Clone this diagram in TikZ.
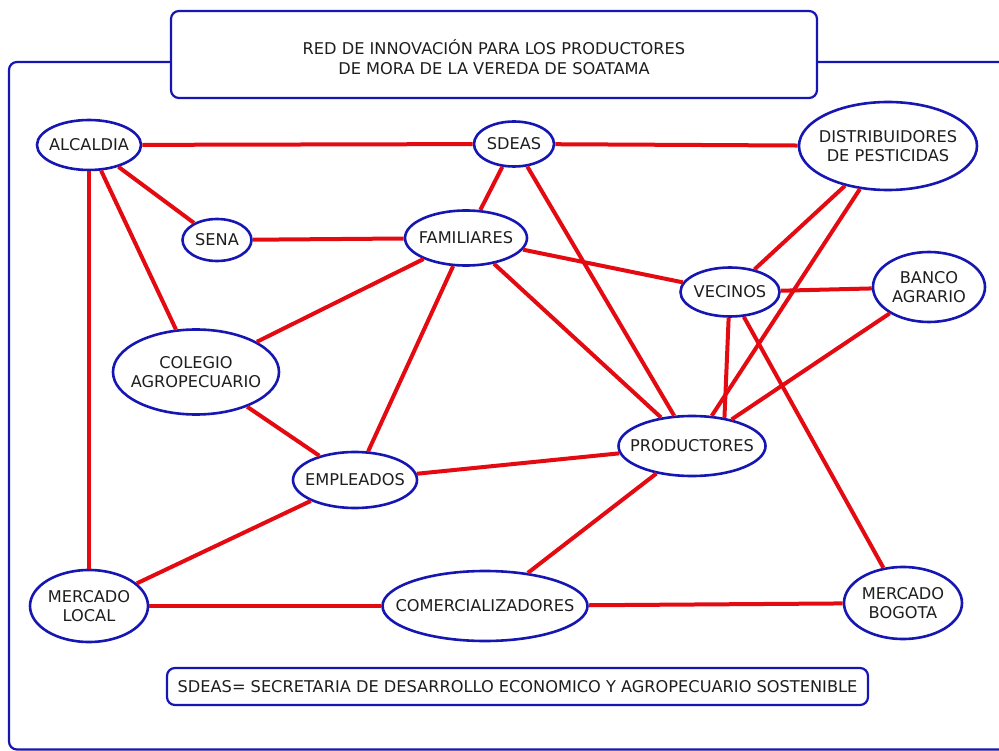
\documentclass[tikz,border=0pt]{standalone}
\usepackage{fontspec}
\setmainfont{DejaVu Sans}
\usetikzlibrary{shapes.geometric}
\definecolor{nodeblue}{RGB}{22,22,178}
\definecolor{linkred}{RGB}{228,10,18}
\definecolor{textgray}{RGB}{30,30,30}
\begin{document}
\begin{tikzpicture}[x=1pt,y=-1pt,
  actor/.style args={#1/#2}{ellipse, draw=nodeblue, line width=2.6pt, inner sep=0pt,
    minimum width=#1, minimum height=#2},
  every label/.style={align=center, text=textgray, inner sep=0pt,
    font=\fontsize{16.2}{19}\selectfont},
  link/.style={draw=linkred, line width=4pt},
  panel/.style={draw=nodeblue, line width=2.2pt, rounded corners=8pt}]
\useasboundingbox (0,0) rectangle (999,751);
\clip (0,0) rectangle (999,751);
% frame and title
\draw[panel] (9,62) rectangle (1015,749.5);
\draw[panel, fill=white] (171,11) rectangle (817,98);
\node[text=textgray, align=center, font=\fontsize{16.2}{20}\selectfont] (title) at (494,57)
  {RED DE INNOVACIÓN PARA LOS PRODUCTORES\\DE MORA DE LA VEREDA DE SOATAMA};
% actors
\node[actor=104pt/50pt, label=center:ALCALDIA] (alcaldia) at (89,145) {};
\node[actor=80pt/45pt, label=center:SDEAS] (sdeas) at (514,144) {};
\node[actor=178pt/88pt, label={center:DISTRIBUIDORES\\DE PESTICIDAS}] (distrib) at (888,146) {};
\node[actor=69pt/42pt, label=center:SENA] (sena) at (217,240) {};
\node[actor=122pt/55pt, label=center:FAMILIARES] (familiares) at (466,238) {};
\node[actor=99pt/49pt, label=center:VECINOS] (vecinos) at (730,292) {};
\node[actor=112pt/70pt, label={center:BANCO\\AGRARIO}] (banco) at (929,287) {};
\node[actor=166pt/85pt, label={center:COLEGIO\\AGROPECUARIO}] (colegio) at (196,372) {};
\node[actor=124pt/56pt, label=center:EMPLEADOS] (empleados) at (355,480) {};
\node[actor=147pt/60pt, label=center:PRODUCTORES] (productores) at (692,446) {};
\node[actor=118pt/72pt, label={center:MERCADO\\LOCAL}] (mlocal) at (89,606) {};
\node[actor=205pt/70pt, label=center:COMERCIALIZADORES] (comerc) at (485,606) {};
\node[actor=118pt/72pt, label={center:MERCADO\\BOGOTA}] (mbogota) at (903,603) {};
% legend
\node[panel, text=textgray, font=\fontsize{16.2}{19}\selectfont, minimum width=701pt,
  minimum height=37pt, inner sep=0pt] (legend) at (517.5,686.5)
  {SDEAS= SECRETARIA DE DESARROLLO ECONOMICO Y AGROPECUARIO SOSTENIBLE};
% links
\draw[link] (alcaldia) -- (sdeas);
\draw[link] (sdeas) -- (distrib);
\draw[link] (alcaldia) -- (sena);
\draw[link] (alcaldia) -- (colegio);
\draw[link] (alcaldia) -- (mlocal);
\draw[link] (sena) -- (familiares);
\draw[link] (sdeas) -- (familiares);
\draw[link] (sdeas) -- (productores);
\draw[link] (familiares) -- (colegio);
\draw[link] (familiares) -- (empleados);
\draw[link] (familiares) -- (vecinos);
\draw[link] (familiares) -- (productores);
\draw[link] (distrib) -- (vecinos);
\draw[link] (distrib) -- (productores);
\draw[link] (vecinos) -- (banco);
\draw[link] (vecinos.-93) -- (productores.41);
\draw[link] (vecinos) -- (mbogota);
\draw[link] (banco) -- (productores);
\draw[link] (colegio) -- (empleados);
\draw[link] (empleados) -- (productores);
\draw[link] (empleados) -- (mlocal);
\draw[link] (mlocal) -- (comerc);
\draw[link] (comerc) -- (productores);
\draw[link] (comerc) -- (mbogota);
\end{tikzpicture}
\end{document}
